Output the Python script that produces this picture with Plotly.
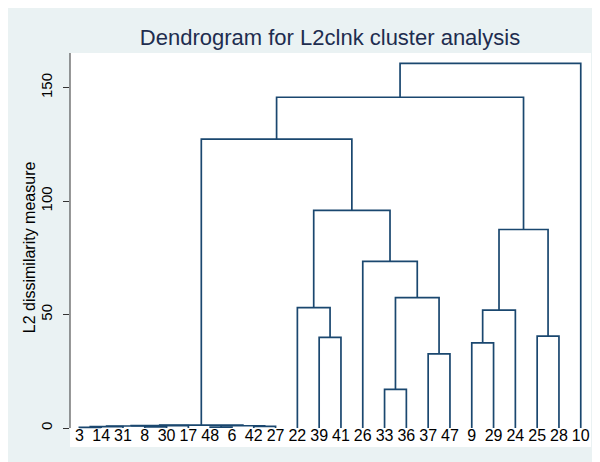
import plotly.graph_objects as go

# ---- data ----
leaf_labels = ["3", "14", "31", "8", "30", "17", "48", "6", "42", "27", "22", "39",
               "41", "26", "33", "36", "37", "47", "9", "29", "24", "25", "28", "10"]

# merges: children are leaf labels or "m<k>" (earlier merge k)
merge_left = ["3", "m0", "8", "m1", "m3", "48", "42", "m5", "m4",
              "39", "22", "33", "37", "m11", "26", "m10", "m8",
              "9", "m17", "25", "m18", "m16", "m21"]
merge_right = ["14", "31", "30", "m2", "17", "6", "27", "m6", "m7",
               "41", "m9", "36", "47", "m12", "m13", "m14", "m15",
               "29", "24", "28", "m19", "m20", "10"]
merge_height = [0.3, 0.6, 0.5, 0.9, 1.1, 0.4, 0.7, 1.0, 1.3,
                40.0, 53.1, 17.0, 32.7, 57.5, 73.5, 95.9, 127.3,
                37.5, 52.0, 40.5, 87.5, 145.8, 160.7]

y_ticks = [0, 50, 100, 150]
title_text = "Dendrogram for L2clnk cluster analysis"
y_title = "L2 dissimilarity measure"

# ---- build dendrogram segments ----
pos = {lab: (float(i), 0.0) for i, lab in enumerate(leaf_labels)}
xs, ys = [], []
for k, (a, b, h) in enumerate(zip(merge_left, merge_right, merge_height)):
    xa, ha = pos[a]
    xb, hb = pos[b]
    xs += [xa, xa, xb, xb, None]
    ys += [ha, h, h, hb, None]
    pos["m%d" % k] = ((xa + xb) / 2.0, h)

LINE = "#1a476f"
fig = go.Figure()
fig.add_trace(go.Scatter(x=xs, y=ys, mode="lines",
                         line=dict(color=LINE, width=1.7),
                         hoverinfo="skip", showlegend=False))
fig.add_trace(go.Scatter(x=list(range(len(leaf_labels))), y=[-3.9] * len(leaf_labels),
                         mode="text", text=leaf_labels,
                         textfont=dict(family="Liberation Sans, Arial", size=16, color="black"),
                         cliponaxis=False, hoverinfo="skip", showlegend=False))

# page body has an 8px margin: figure pixel = screen pixel - 8
OFF = 8
W, H = 600 - OFF, 462 - OFF
L, R, T, B = 70 - OFF, 600 - 591, 52.5 - OFF, 462 - 447
pw, ph = W - L - R, H - T - B

def px_x(p):
    return (p - OFF - L) / pw

def px_y(p):
    return (H - B - (p - OFF)) / ph

shapes = [
    # y axis line from 0 up to top of plot
    dict(type="line", xref="paper", yref="y", x0=0, x1=0, y0=0, y1=165.3,
         line=dict(color="#333333", width=1)),
]

fig.update_layout(
    width=W, height=H,
    margin=dict(l=L, r=R, t=T, b=B, pad=0),
    paper_bgcolor="#EAF2F3", plot_bgcolor="white",
    font=dict(family="Liberation Sans, Arial", color="black"),
    title=dict(text=title_text, x=px_x(330), xref="paper", xanchor="center",
               y=1 - (37 - OFF) / H, yref="container", yanchor="middle",
               font=dict(size=22, color="#1e2d4f")),
    shapes=shapes,
    annotations=[dict(text=y_title, xref="paper", yref="paper", x=px_x(29), y=px_y(247),
                      xanchor="center", yanchor="middle", textangle=-90, showarrow=False,
                      font=dict(size=16, color="black"))],
    xaxis=dict(range=[-0.43, 23.47], showgrid=False, zeroline=False, showticklabels=False,
               ticks="", showline=False, fixedrange=True),
    yaxis=dict(range=[-8.36, 165.3], tickvals=y_ticks, ticktext=[str(v) for v in y_ticks],
               tickangle=-90, ticks="outside", ticklen=6, tickwidth=1, tickcolor="#333333",
               ticklabelstandoff=5,
               tickfont=dict(size=15, color="black"), showgrid=False, zeroline=False,
               showline=False, fixedrange=True),
)

fig.write_html("out.html")
